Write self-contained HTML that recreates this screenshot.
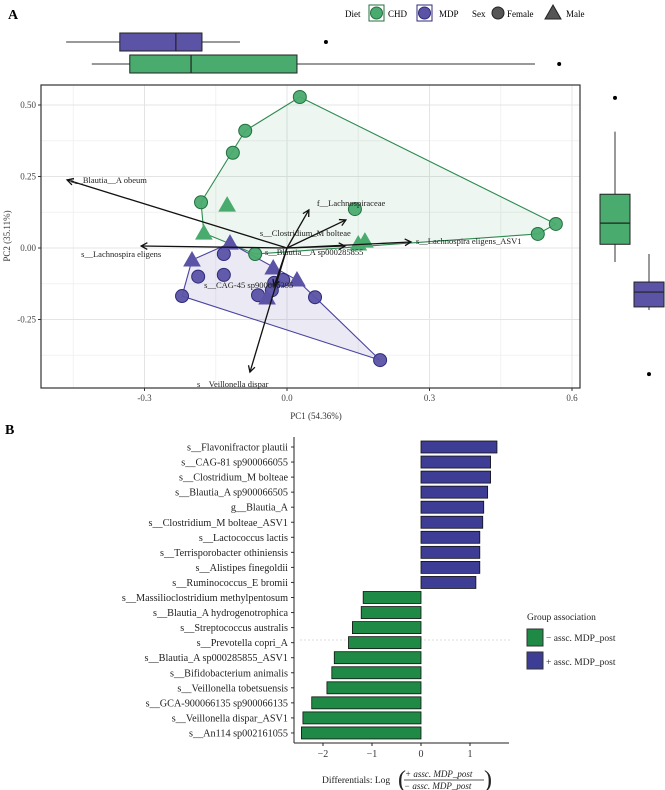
<!DOCTYPE html>
<html><head><meta charset="utf-8"><style>
body{margin:0;background:#fff;}
svg{display:block;font-family:"Liberation Serif",serif;}
</style></head><body>
<svg id="s" width="665" height="790" viewBox="0 0 665 790"></svg>
<script>
// ---------- Panel A data ----------
const chdCircles=[[0.027,0.528],[-0.088,0.41],[-0.114,0.333],[-0.181,0.16],[0.143,0.136],[0.566,0.084],[0.528,0.049],[-0.067,-0.021]];
const chdTriangles=[[-0.126,0.15],[-0.175,0.052],[0.15,0.014],[0.164,0.024]];
const mdpCircles=[[-0.221,-0.168],[-0.187,-0.1],[-0.133,-0.021],[-0.133,-0.094],[-0.027,-0.122],[-0.008,-0.112],[-0.061,-0.165],[0.059,-0.172],[0.196,-0.392],[-0.032,-0.148]];
const mdpTriangles=[[-0.2,-0.042],[-0.12,0.017],[-0.029,-0.07],[0.021,-0.112],[-0.042,-0.175]];
const arrowNames=["s__Blautia__A obeum","s__Lachnospira eligens","f__Lachnospiraceae","s__Clostridium_M bolteae","s__Blautia__A sp000285855","s__Lachnospira eligens_ASV1","s__CAG-45 sp900066395","s__Veillonella dispar"];
const arrowX=[-0.463,-0.307,0.046,0.124,0.122,0.261,-0.027,-0.078];
const arrowY=[0.238,0.007,0.133,0.098,0.007,0.021,-0.133,-0.434];
const xTicks=[-0.3,0,0.3,0.6];
const xTickLabels=["-0.3","0.0","0.3","0.6"];
const yTicks=[-0.25,0,0.25,0.5];
const yTickLabels=["-0.25","0.00","0.25","0.50"];
// marginal box stats [lowWhisker,q1,median,q3,highWhisker,outlier]
const boxPC1MDP=[-0.465,-0.352,-0.234,-0.179,-0.099,0.082];
const boxPC1CHD=[-0.411,-0.331,-0.202,0.021,0.522,0.573];
const boxPC2CHD=[-0.049,0.013,0.087,0.188,0.407,0.525];
const boxPC2MDP=[-0.217,-0.206,-0.154,-0.119,-0.021,-0.441];
// ---------- Panel B data ----------
const taxa=["s__Flavonifractor plautii","s__CAG-81 sp900066055","s__Clostridium_M bolteae","s__Blautia_A sp900066505","g__Blautia_A","s__Clostridium_M bolteae_ASV1","s__Lactococcus lactis","s__Terrisporobacter othiniensis","s__Alistipes finegoldii","s__Ruminococcus_E bromii","s__Massilioclostridium methylpentosum","s__Blautia_A hydrogenotrophica","s__Streptococcus australis","s__Prevotella copri_A","s__Blautia_A sp000285855_ASV1","s__Bifidobacterium animalis","s__Veillonella tobetsuensis","s__GCA-900066135 sp900066135","s__Veillonella dispar_ASV1","s__An114 sp002161055"];
const diffs=[1.55,1.42,1.42,1.36,1.28,1.26,1.2,1.2,1.2,1.12,-1.18,-1.22,-1.4,-1.48,-1.77,-1.82,-1.92,-2.23,-2.41,-2.44];
const bTicks=[-2,-1,0,1];

const NS="http://www.w3.org/2000/svg";
const S=document.getElementById('s');
function el(t,a,p){const e=document.createElementNS(NS,t);for(const k in a)e.setAttribute(k,a[k]);(p||S).appendChild(e);return e;}
function tx(x,y,s,a,p){const e=el('text',Object.assign({x:x,y:y},a),p);e.textContent=s;return e;}

const GF="#4aab6f",GS="#23703f",PF="#5b53a6",PS="#2e2a78";
const X=v=>287+v*475, Y=v=>248-v*286;
const L=41,R=580,T=85,B=388;

let t=tx(8,19,"A",{"font-size":14,"font-weight":"bold"});

t=tx(5,434,"B",{"font-size":14,"font-weight":"bold"});


// legend A
const lg=el('g',{});
tx(345,17,"Diet",{"font-size":9},lg);
el('rect',{x:369,y:5,width:15,height:16,fill:"#fff",stroke:GS},lg);el('circle',{cx:376.5,cy:13,r:6,fill:GF,stroke:GS},lg);
tx(388,17,"CHD",{"font-size":9},lg);
el('rect',{x:417,y:5,width:15,height:16,fill:"#fff",stroke:PS},lg);el('circle',{cx:424.5,cy:13,r:6,fill:PF,stroke:PS},lg);
tx(439,17,"MDP",{"font-size":9},lg);
tx(472,17,"Sex",{"font-size":9},lg);
el('circle',{cx:498,cy:13,r:6,fill:"#555",stroke:"#222"},lg);
tx(507,17,"Female",{"font-size":9},lg);
el('polygon',{points:"553,5 545,19 561,19",fill:"#555",stroke:"#222"},lg);
tx(566,17,"Male",{"font-size":9},lg);

// plot frame & grid
const pa=el('g',{});
el('rect',{x:L,y:T,width:R-L,height:B-T,fill:"#fff"},pa);
[-0.45,-0.15,0.15,0.45].forEach(v=>el('line',{x1:X(v),x2:X(v),y1:T,y2:B,stroke:"#f2f2f2"},pa));
[-0.375,-0.125,0.125,0.375].forEach(v=>el('line',{x1:L,x2:R,y1:Y(v),y2:Y(v),stroke:"#f2f2f2"},pa));
xTicks.forEach((v,i)=>{el('line',{x1:X(v),x2:X(v),y1:T,y2:B,stroke:"#e4e4e4"},pa);el('line',{x1:X(v),x2:X(v),y1:B,y2:B+3,stroke:"#333"},pa);
 const e=tx(X(v),B+13,xTickLabels[i],{"font-size":9,"text-anchor":"middle",fill:"#444"},pa);});
yTicks.forEach((v,i)=>{el('line',{x1:L,x2:R,y1:Y(v),y2:Y(v),stroke:"#e4e4e4"},pa);el('line',{x1:L-3,x2:L,y1:Y(v),y2:Y(v),stroke:"#333"},pa);
 const e=tx(L-5,Y(v)+3,yTickLabels[i],{"font-size":9,"text-anchor":"end",fill:"#444"},pa);});

function hull(pts){pts=pts.slice().sort((a,b)=>a[0]-b[0]||a[1]-b[1]);const c=(o,a,b)=>(a[0]-o[0])*(b[1]-o[1])-(a[1]-o[1])*(b[0]-o[0]);
 const lo=[],up=[];for(const p of pts){while(lo.length>=2&&c(lo[lo.length-2],lo[lo.length-1],p)<=0)lo.pop();lo.push(p);}
 for(const p of pts.slice().reverse()){while(up.length>=2&&c(up[up.length-2],up[up.length-1],p)<=0)up.pop();up.push(p);}
 return lo.slice(0,-1).concat(up.slice(0,-1));}
const hc=hull(chdCircles.concat(chdTriangles)), hm=hull(mdpCircles.concat(mdpTriangles));
let h=el('polygon',{points:hc.map(p=>X(p[0])+","+Y(p[1])).join(" "),fill:"rgba(74,171,111,0.1)",stroke:"#2e8a50","stroke-width":1.1},pa);

h=el('polygon',{points:hm.map(p=>X(p[0])+","+Y(p[1])).join(" "),fill:"rgba(91,83,166,0.12)",stroke:"#4a43a0","stroke-width":1.1},pa);


function pt(p,f,s,tri,name){let e;if(tri){const x=X(p[0]),y=Y(p[1]);e=el('polygon',{points:`${x},${y-8} ${x-8},${y+6} ${x+8},${y+6}`,fill:f,stroke:f},pa);}
 else e=el('circle',{cx:X(p[0]),cy:Y(p[1]),r:6.5,fill:f,stroke:s,"stroke-width":1,"fill-opacity":0.95},pa);
 }
chdCircles.forEach(p=>pt(p,GF,GS,false,'chd-female-point'));
chdTriangles.forEach(p=>pt(p,GF,GS,true,'chd-male-point'));
mdpCircles.forEach(p=>pt(p,PF,PS,false,'mdp-female-point'));
mdpTriangles.forEach(p=>pt(p,PF,PS,true,'mdp-male-point'));

const lblOff=[[4,3],[-60,11],[8,-4],[-86,16],[-80,9],[5,2],[-70,2],[-53,15]];
arrowNames.forEach((n,i)=>{const x2=X(arrowX[i]),y2=Y(arrowY[i]),x1=X(0),y1=Y(0);
 const g=el('g',{},pa);
 el('line',{x1:x1,y1:y1,x2:x2,y2:y2,stroke:"#111","stroke-width":1.3},g);
 const a=Math.atan2(y2-y1,x2-x1),d=7;
 el('polyline',{points:`${x2-d*Math.cos(a-0.5)},${y2-d*Math.sin(a-0.5)} ${x2},${y2} ${x2-d*Math.cos(a+0.5)},${y2-d*Math.sin(a+0.5)}`,fill:"none",stroke:"#111","stroke-width":1.3},g);
 const e=tx(x2+lblOff[i][0],y2+lblOff[i][1],n,{"font-size":8.5,fill:"#222"},g);});
el('rect',{x:L,y:T,width:R-L,height:B-T,fill:"none",stroke:"#333","stroke-width":1.2},pa);

t=tx(316,419,"PC1 (54.36%)",{"font-size":9,"text-anchor":"middle",fill:"#333"});
t=tx(0,0,"PC2 (35.11%)",{"font-size":9,"text-anchor":"middle",fill:"#333",transform:"translate(10,236) rotate(-90)"});

function hbox(s,cy,f,name){const g=el('g',{});
 el('line',{x1:X(s[0]),x2:X(s[4]),y1:cy,y2:cy,stroke:"#333"},g);
 el('rect',{x:X(s[1]),y:cy-9,width:X(s[3])-X(s[1]),height:18,fill:f,stroke:"#222"},g);
 el('line',{x1:X(s[2]),x2:X(s[2]),y1:cy-9,y2:cy+9,stroke:"#222","stroke-width":1.2},g);
 el('circle',{cx:X(s[5]),cy:cy,r:2,fill:"#000"},g);}
hbox(boxPC1MDP,42,PF,'pc1-box-mdp');hbox(boxPC1CHD,64,GF,'pc1-box-chd');
function vbox(s,cx,f,name){const g=el('g',{});
 el('line',{y1:Y(s[0]),y2:Y(s[4]),x1:cx,x2:cx,stroke:"#333"},g);
 el('rect',{y:Y(s[3]),x:cx-15,height:Y(s[1])-Y(s[3]),width:30,fill:f,stroke:"#222"},g);
 el('line',{y1:Y(s[2]),y2:Y(s[2]),x1:cx-15,x2:cx+15,stroke:"#222","stroke-width":1.2},g);
 el('circle',{cy:Y(s[5]),cx:cx,r:2,fill:"#000"},g);}
vbox(boxPC2CHD,615,GF,'pc2-box-chd');vbox(boxPC2MDP,649,PF,'pc2-box-mdp');

// ---------- Panel B ----------
const BX=v=>421+v*49, BY=i=>447+i*15.05;
const pb=el('g',{});
el('line',{x1:300,x2:510,y1:640,y2:640,stroke:"#ddd","stroke-dasharray":"2,2"},pb);
taxa.forEach((n,i)=>{const v=diffs[i],y=BY(i);
 const r=el('rect',{x:Math.min(BX(0),BX(v)),y:y-6,width:Math.abs(BX(v)-BX(0)),height:12,fill:v>0?"#3d3d96":"#1f8a45",stroke:"#111","stroke-width":0.8},pb);
 
 el('line',{x1:291,x2:294,y1:y,y2:y,stroke:"#333"},pb);
 const e=tx(288,y+3.5,n,{"font-size":10.2,"text-anchor":"end",fill:"#222"},pb);});
el('line',{x1:294,x2:294,y1:437,y2:743,stroke:"#222"},pb);
el('line',{x1:294,x2:509,y1:743,y2:743,stroke:"#222"},pb);
bTicks.forEach(v=>{el('line',{x1:BX(v),x2:BX(v),y1:743,y2:746,stroke:"#222"},pb);
 const e=tx(BX(v),757,v<0?"\u2212"+Math.abs(v):String(v),{"font-size":10,"text-anchor":"middle",fill:"#333"},pb);});
const xt=el('g',{},pb);
tx(322,783,"Differentials: Log",{"font-size":9.5,fill:"#222"},xt);
tx(398,787,"(",{"font-size":24,fill:"#222","font-weight":"lighter"},xt);
tx(405,777,"+ assc. MDP_post",{"font-size":9,"font-style":"italic",fill:"#222"},xt);
el('line',{x1:404,x2:484,y1:780,y2:780,stroke:"#222","stroke-width":0.8},xt);
tx(404,789,"\u2212 assc. MDP_post",{"font-size":9,"font-style":"italic",fill:"#222"},xt);
tx(484,787,")",{"font-size":24,fill:"#222"},xt);

const lb=el('g',{});
tx(527,620,"Group association",{"font-size":9.5,fill:"#222"},lb);
el('rect',{x:527,y:629,width:16,height:17,fill:"#1f8a45",stroke:"#333"},lb);
tx(546,641,"\u2212 assc. MDP_post",{"font-size":9.5,fill:"#222"},lb);
el('rect',{x:527,y:652,width:16,height:17,fill:"#3d3d96",stroke:"#333"},lb);
tx(546,665,"+ assc. MDP_post",{"font-size":9.5,fill:"#222"},lb);
</script>
</body></html>
